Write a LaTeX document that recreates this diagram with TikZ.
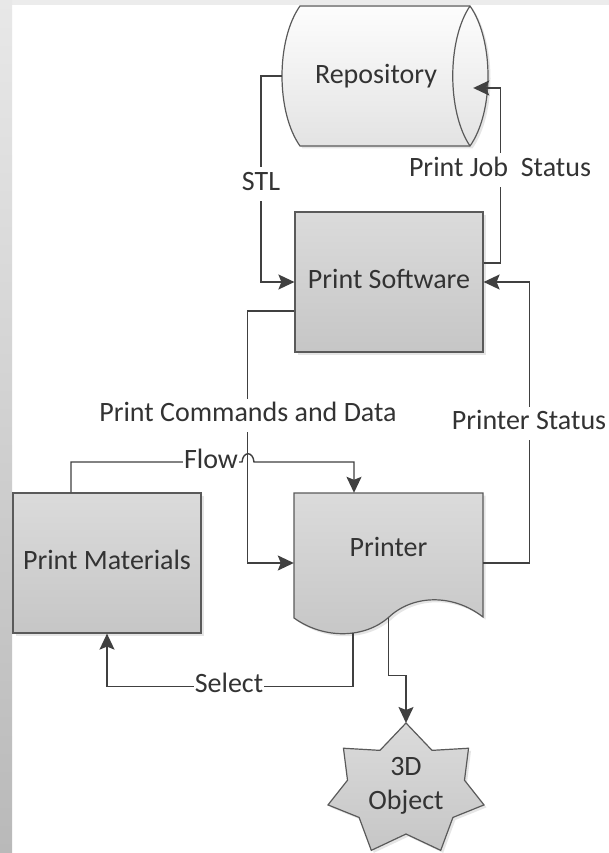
\documentclass[tikz,border=0pt]{standalone}
\usepackage{fontspec}
\setmainfont{Carlito}
\usetikzlibrary{arrows.meta,shadows}
\definecolor{ink}{HTML}{333333}
\definecolor{wire}{HTML}{404040}
\definecolor{edge}{HTML}{5A5A5A}
\definecolor{boxtop}{HTML}{DBDBDB}
\definecolor{boxbot}{HTML}{C6C6C6}
\definecolor{stripetop}{HTML}{E8E8E8}
\definecolor{stripebot}{HTML}{B9B9B9}
\definecolor{cyltop}{HTML}{FDFDFD}
\definecolor{cylbot}{HTML}{E3E3E3}
\begin{document}
\begin{tikzpicture}[x=1pt,y=-1pt,
  font=\fontsize{28}{34}\selectfont, text=ink,
  soft/.style={drop shadow={opacity=0.2,shadow xshift=2.5pt,shadow yshift=-2.5pt}},
  shapeline/.style={draw=edge,line width=1.2pt},
  block/.style={shapeline,soft,top color=boxtop,bottom color=boxbot,
    minimum width=188pt,minimum height=140pt,inner sep=0pt,
    text height=19pt,text depth=6pt},
  frame/.style={minimum width=188pt,minimum height=140pt,inner sep=0pt},
  link/.style={draw=wire,line width=1.4pt},
  arr/.style={link,-{Stealth[length=16pt,width=15pt,inset=3pt]}},
  tag/.style={fill=white,inner xsep=1pt,inner ysep=4pt,
    text height=19pt,text depth=6pt}]

% page background with the grey side and top bands
\useasboundingbox (0,0) rectangle (609,853);
\fill[white] (0,0) rectangle (609,853);
\fill[gray!15] (0,0) rectangle (609,5);
\shade[top color=stripetop,bottom color=stripebot] (0,0) rectangle (12,853);

% repository drum lying on its side
\path[shapeline,soft,top color=cyltop,bottom color=cylbot]
  (300,6) -- (470,6) .. controls (494,40) and (494,112) .. (470,146)
  -- (300,146) .. controls (276,112) and (276,40) .. cycle;
\draw[shapeline] (470,6) .. controls (447,40) and (447,112) .. (470,146);
\node[frame] (repo) at (376,76) {Repository};

% printer drawn as a document shape with a wavy bottom
\path[shapeline,soft,top color=boxtop,bottom color=boxbot]
  (294,493) -- (483,493) -- (483,617)
  .. controls (452,593) and (412,595) .. (388.5,617.5)
  .. controls (365,638) and (325,640) .. (294,618) -- cycle;
\node[frame,minimum width=189pt] (pr) at (388.5,563) {\raisebox{7pt}[0pt][0pt]{Printer}};

% seven-pointed star for the printed part
\path[shapeline,soft,top color=boxtop,bottom color=boxbot,shift={(406,790)}]
  (90:80pt and 67pt)
  \foreach \k in {0,...,6} {
    -- ({90+\k*360/7+180/7}:60pt and 44pt)
    -- ({90+(\k+1)*360/7}:80pt and 67pt) } -- cycle;
\coordinate (objtop) at (406,723);
\node[align=center,inner sep=0pt] (obj) at (406,786) {3D\\Object};

% rectangular process boxes
\node[block] (ps) at (389,282) {Print Software};
\node[block] (pm) at (107,563) {Print Materials};

% connectors
\draw[arr] (repo.west) -- ++(-21,0) |- (ps.west);
\draw[arr] ([yshift=19pt]ps.east) -- ++(17,0) |- ([shift={(3pt,-12pt)}]repo.east);
\draw[arr] ([yshift=-29pt]ps.west) -- ++(-47,0) |- (pr.west);
\draw[arr] (pr.east) -- ++(46,0) |- (ps.east);
\draw[arr] ([xshift=-36pt]pm.north) |- (242,462)
  .. controls (243,451) and (253,451) .. (254,462)
  -| ([xshift=-34.5pt]pr.north);
\draw[arr] ([xshift=-35.5pt]pr.south) -- ++(0,53) -| (pm.south);
\draw[arr] ([yshift=15.5pt]pr.south) -- ++(0,57.5) -| (objtop);

% connector labels
\node[tag] (lstl) at (261,184) {STL};
\node[tag] (ljob) at (500,170) {Print Job~~Status};
\node[tag] (lcmd) at (248,415) {Print Commands and Data};
\node[tag] (lpst) at (529,423) {Printer Status};
\node[tag] (lflow) at (211,462) {Flow};
\node[tag] (lsel) at (229,686) {Select};
\end{tikzpicture}
\end{document}
